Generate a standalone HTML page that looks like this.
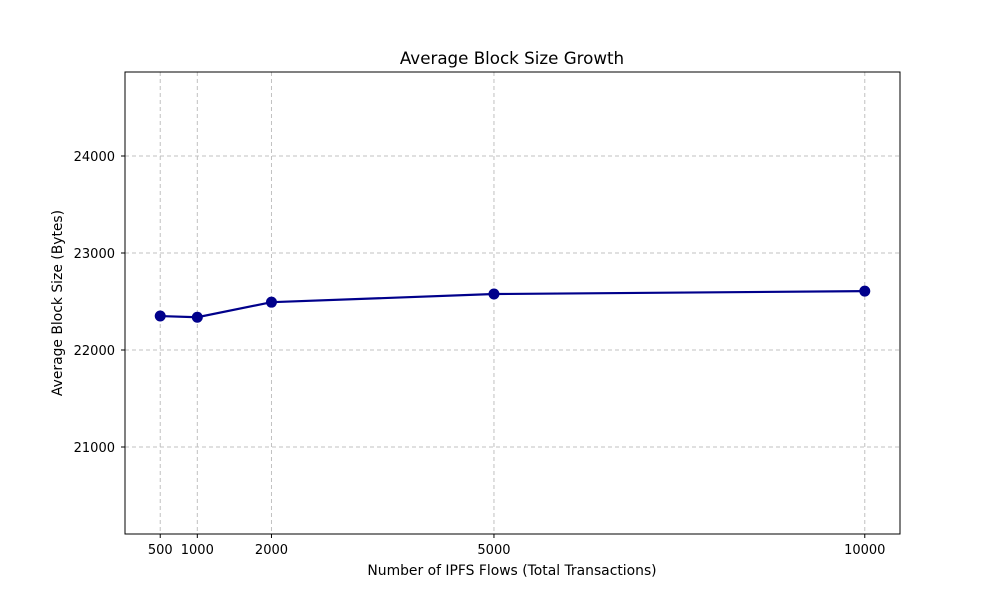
<!DOCTYPE html>
<html><head><meta charset="utf-8"><style>
body{margin:0;background:#fff;font-family:"DejaVu Sans","Liberation Sans",sans-serif;}
</style></head><body>
<svg id="chart" width="1000" height="600" xmlns="http://www.w3.org/2000/svg" font-family="DejaVu Sans, Liberation Sans, sans-serif">
<rect width="1000" height="600" fill="#fff"/>
<text x="512" y="64" text-anchor="middle" font-size="16.7">Average Block Size Growth</text>
<g id="grid"></g>
<g id="series"></g>
<rect x="125" y="72" width="775" height="462" fill="none" stroke="#000" stroke-width="1"/>
<g id="ticks"></g>
<text x="512" y="575" text-anchor="middle" font-size="13.9">Number of IPFS Flows (Total Transactions)</text>
<text transform="translate(62,303) rotate(-90)" text-anchor="middle" font-size="13.9">Average Block Size (Bytes)</text>
</svg>
<script>
const categories=[500,1000,2000,5000,10000];
const values=[22350,22338,22493,22577,22607];
const yTicks=[21000,22000,23000,24000];
const xTickLabels=["500","1000","2000","5000","10000"];
const NS="http://www.w3.org/2000/svg";
const X0=125,X1=900,Y0=72,Y1=534,xmin=25,xmax=10475,ymin=20103,ymax=24866;
function sx(v){return X0+(v-xmin)/(xmax-xmin)*(X1-X0);}
function sy(v){return Y1-(v-ymin)/(ymax-ymin)*(Y1-Y0);}
function mk(t,a,p){const e=document.createElementNS(NS,t);for(const k in a)e.setAttribute(k,a[k]);p.appendChild(e);return e;}
const grid=document.getElementById('grid'),ticks=document.getElementById('ticks'),ser=document.getElementById('series');
categories.forEach((c,i)=>{const x=sx(c);
 const g=mk('line',{x1:x,x2:x,y1:Y0,y2:Y1,stroke:'#c0c0c0','stroke-dasharray':'4,3'},grid);
 
 
 const t=mk('line',{x1:x,x2:x,y1:Y1,y2:Y1+4,stroke:'#000'},ticks);
 
 
 const l=mk('text',{x:x,y:Y1+20,'text-anchor':'middle','font-size':13},ticks);l.textContent=xTickLabels[i];
 
 
});
yTicks.forEach(v=>{const y=sy(v);
 const g=mk('line',{x1:X0,x2:X1,y1:y,y2:y,stroke:'#c0c0c0','stroke-dasharray':'4,3'},grid);
 
 
 const t=mk('line',{x1:X0-4,x2:X0,y1:y,y2:y,stroke:'#000'},ticks);
 
 
 const l=mk('text',{x:X0-10,y:y+5,'text-anchor':'end','font-size':13},ticks);l.textContent=v;
 
 
});
const pts=categories.map((c,i)=>sx(c)+','+sy(values[i])).join(' ');
const pl=mk('polyline',{points:pts,fill:'none',stroke:'#00008b','stroke-width':2.2},ser);


categories.forEach((c,i)=>{const m=mk('circle',{cx:sx(c),cy:sy(values[i]),r:5.5,fill:'#00008b'},ser);
 
 
});
</script>
</body></html>
